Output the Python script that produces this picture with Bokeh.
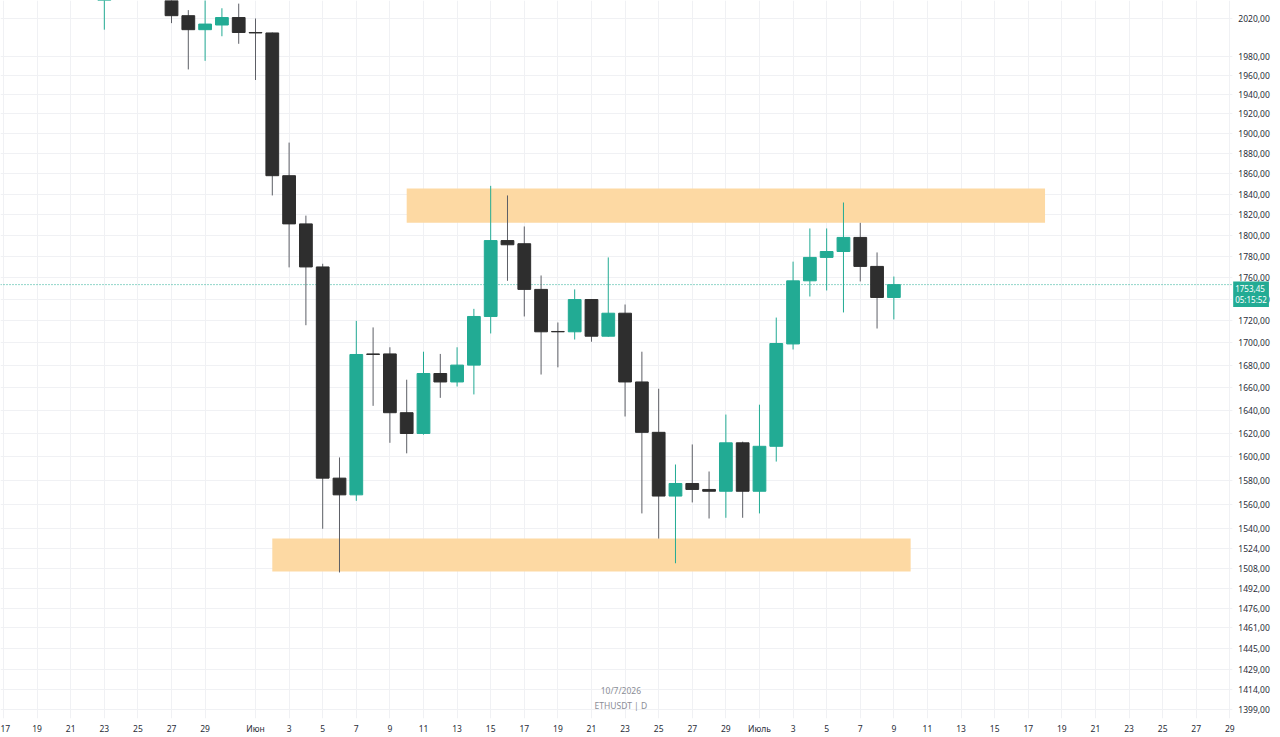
import pandas as pd
from bokeh.plotting import figure
from bokeh.models import (Range1d, FixedTicker, CustomJSTickFormatter, Span, Label,
                          ColumnDataSource, BoxAnnotation)
from bokeh.embed import file_html
from bokeh.resources import INLINE

# ---------------- data ----------------
dates = ["2026-05-23", "2026-05-27", "2026-05-28", "2026-05-29", "2026-05-30", "2026-05-31",
         "2026-06-01", "2026-06-02", "2026-06-03", "2026-06-04", "2026-06-05", "2026-06-06",
         "2026-06-07", "2026-06-08", "2026-06-09", "2026-06-10", "2026-06-11", "2026-06-12",
         "2026-06-13", "2026-06-14", "2026-06-15", "2026-06-16", "2026-06-17", "2026-06-18",
         "2026-06-19", "2026-06-20", "2026-06-21", "2026-06-22", "2026-06-23", "2026-06-24",
         "2026-06-25", "2026-06-26", "2026-06-27", "2026-06-28", "2026-06-29", "2026-06-30",
         "2026-07-01", "2026-07-02", "2026-07-03", "2026-07-04", "2026-07-05", "2026-07-06",
         "2026-07-07", "2026-07-08", "2026-07-09"]
opens  = [2045, 2048, 2023, 2008, 2013, 2021, 2005, 2004.5, 1858, 1811, 1770, 1582,
          1568, 1690, 1690, 1638, 1620, 1672.5, 1665, 1680, 1724, 1795, 1792, 1749,
          1710.3, 1710, 1739.6, 1706, 1727, 1665, 1621, 1567, 1577.5, 1572.5, 1571, 1612,
          1571, 1609, 1699, 1757, 1779, 1784.6, 1798, 1770.5, 1741.5]
highs  = [2075, 2055, 2029, 2042, 2031, 2036, 2020, 2005, 1891, 1819, 1773, 1599.5,
          1720, 1714, 1696, 1667, 1692, 1690, 1696, 1731, 1848, 1838.6, 1808.5, 1762,
          1718.5, 1749, 1740, 1779, 1735, 1692, 1659, 1593.5, 1610.6, 1587.6, 1636.4, 1613,
          1645, 1723, 1775, 1806.6, 1806.6, 1831.7, 1812, 1783.7, 1761]
lows   = [2008, 2015, 1966, 1975, 2001, 1993, 1955, 1838.6, 1769.6, 1716, 1540, 1504.6,
          1563, 1644, 1612, 1603, 1619, 1651, 1661, 1654, 1708.5, 1757, 1724, 1671.6,
          1678, 1703, 1701, 1705.5, 1634.7, 1552.6, 1532, 1512, 1561.7, 1548.4, 1549, 1549,
          1552.6, 1596, 1694, 1742.4, 1748, 1727.7, 1756.4, 1713, 1721.3]
closes = [2065, 2023, 2008, 2014, 2021, 2005, 2004.5, 1858, 1811, 1770, 1582, 1568,
          1689.5, 1689.5, 1638, 1620, 1672.5, 1665, 1680, 1724, 1795, 1791, 1749, 1710,
          1710, 1739.6, 1706, 1727, 1665, 1621, 1567, 1577.5, 1572.5, 1571, 1612, 1571,
          1609, 1699.4, 1757, 1779, 1784.6, 1798, 1770.5, 1741.5, 1753.45]

last_price = 1753.45
last_price_label = "1753,45"
countdown = "05:15:52"

zone_start = ["2026-06-10", "2026-06-02"]
zone_end = ["2026-07-18", "2026-07-10"]
zone_top = [1845.5, 1532.1]
zone_bottom = [1812.0, 1505.4]

y_ticks = [2020, 1980, 1960, 1940, 1920, 1900, 1880, 1860, 1840, 1820, 1800, 1780, 1760,
           1740, 1720, 1700, 1680, 1660, 1640, 1620, 1600, 1580, 1560, 1540, 1524, 1508,
           1492, 1476, 1461, 1445, 1429, 1414, 1399]

x_tick_dates = ["2026-05-17", "2026-05-19", "2026-05-21", "2026-05-23", "2026-05-25",
                "2026-05-27", "2026-05-29", "2026-06-01", "2026-06-03", "2026-06-05",
                "2026-06-07", "2026-06-09", "2026-06-11", "2026-06-13", "2026-06-15",
                "2026-06-17", "2026-06-19", "2026-06-21", "2026-06-23", "2026-06-25",
                "2026-06-27", "2026-06-29", "2026-07-01", "2026-07-03", "2026-07-05",
                "2026-07-07", "2026-07-09", "2026-07-11", "2026-07-13", "2026-07-15",
                "2026-07-17", "2026-07-19", "2026-07-21", "2026-07-23", "2026-07-25",
                "2026-07-27", "2026-07-29"]
x_tick_labels = ["17", "19", "21", "23", "25", "27", "29", "Июн", "3", "5", "7", "9", "11",
                 "13", "15", "17", "19", "21", "23", "25", "27", "29", "Июль", "3", "5", "7",
                 "9", "11", "13", "15", "17", "19", "21", "23", "25", "27", "29"]

watermark_date = "10/7/2026"
watermark_symbol = "ETHUSDT | D"

# ---------------- helpers ----------------
ORIGIN = pd.Timestamp("2026-06-01")


def day(s):
    return (pd.Timestamp(s) - ORIGIN).days


UP = "#22ab94"
DOWN = "#2e2e2e"
UP_WICK = "#22ab94"
DOWN_WICK = "#5d5f66"
FRAME_W = 1272
FRAME_H = 718
X_START, X_END = -15.18, 60.54
SCALE_EDGE = 58.15   # where the price scale begins (in days from 1 June)

xs = [day(d) for d in dates]
up = [c > o for o, c in zip(opens, closes)]
src = ColumnDataSource(dict(
    x=xs, high=highs, low=lows,
    top=[max(o, c) for o, c in zip(opens, closes)],
    bottom=[min(o, c) for o, c in zip(opens, closes)],
    body=[UP if u else DOWN for u in up],
    wick=[UP_WICK if u else DOWN_WICK for u in up],
))

p = figure(x_range=Range1d(X_START, X_END), y_range=Range1d(1392.2, 2039.4),
           y_axis_type="log", y_axis_location="right",
           frame_width=FRAME_W, frame_height=FRAME_H,
           min_border_left=0, min_border_top=0, min_border_right=0, min_border_bottom=0,
           output_backend="svg", toolbar_location=None)
p.background_fill_color = "white"
p.border_fill_color = "white"
p.outline_line_color = None

# last price line (under the candles)
p.add_layout(Span(location=last_price, dimension="width", line_color=UP,
                  line_dash="1 2", line_width=1, level="underlay"))
# price-scale background (hides grid lines behind the scale)
p.add_layout(BoxAnnotation(left=SCALE_EDGE, fill_color="white", fill_alpha=1.0,
                           line_color=None, level="underlay"))

# zones
p.quad(left=[day(d) for d in zone_start], right=[day(d) for d in zone_end],
       top=zone_top, bottom=zone_bottom, fill_color="#fdd9a3", line_color=None)

# candles
p.segment(x0="x", y0="low", x1="x", y1="high", line_color="wick", line_width=1, source=src)
p.vbar(x="x", width=0.76, top="top", bottom="bottom", fill_color="body",
       line_color="body", line_width=1, source=src)

# axes
yax = p.yaxis[0]
yax.fixed_location = SCALE_EDGE
yax.ticker = FixedTicker(ticks=y_ticks)
p.ygrid.ticker = FixedTicker(ticks=y_ticks)
yax.formatter = CustomJSTickFormatter(code="return tick.toFixed(2).replace('.', ',');")
yax.axis_line_color = None
yax.major_tick_line_color = None
yax.minor_tick_line_color = None
yax.major_tick_out = 0
yax.major_tick_in = 0
yax.minor_tick_out = 0
yax.major_label_text_font = "Noto Sans"
yax.major_label_text_font_size = "8.5px"
yax.major_label_text_color = "#2a2e39"
yax.major_label_standoff = 6

xticks = [day(d) for d in x_tick_dates]
xax = p.xaxis[0]
xax.ticker = FixedTicker(ticks=xticks)
p.xgrid.ticker = FixedTicker(ticks=xticks)
xax.major_label_overrides = {t: lab for t, lab in zip(xticks, x_tick_labels)}
xax.axis_line_color = None
xax.major_tick_line_color = None
xax.minor_tick_line_color = None
xax.major_tick_out = 0
xax.major_tick_in = 0
xax.minor_tick_out = 0
xax.major_label_text_font = "Noto Sans"
xax.major_label_text_font_size = "8.5px"
xax.major_label_text_color = "#2a2e39"
xax.major_label_standoff = 4

p.xgrid.grid_line_color = "#f0f1f4"
p.ygrid.grid_line_color = "#f0f1f4"

# watermark
p.add_layout(Label(x=21.75, y=1413.2, text=watermark_date, text_align="center",
                   text_baseline="middle", text_font="Noto Sans", text_font_size="8.5px",
                   text_color="#8a8d96"))
p.add_layout(Label(x=21.75, y=1401.9, text=watermark_symbol, text_align="center",
                   text_baseline="middle", text_font="Noto Sans", text_font_size="8.5px",
                   text_color="#8a8d96"))

# price tag on the price scale
p.add_layout(Label(x=SCALE_EDGE + 0.05, y=1756.4,
                   text=last_price_label + "\n" + countdown,
                   text_align="left", text_baseline="top", text_font="Noto Sans",
                   text_font_size="8px", text_color="white", text_line_height=0.95,
                   background_fill_color=UP, padding=2, level="overlay"))

open("out.html", "w").write(file_html(p, INLINE))
